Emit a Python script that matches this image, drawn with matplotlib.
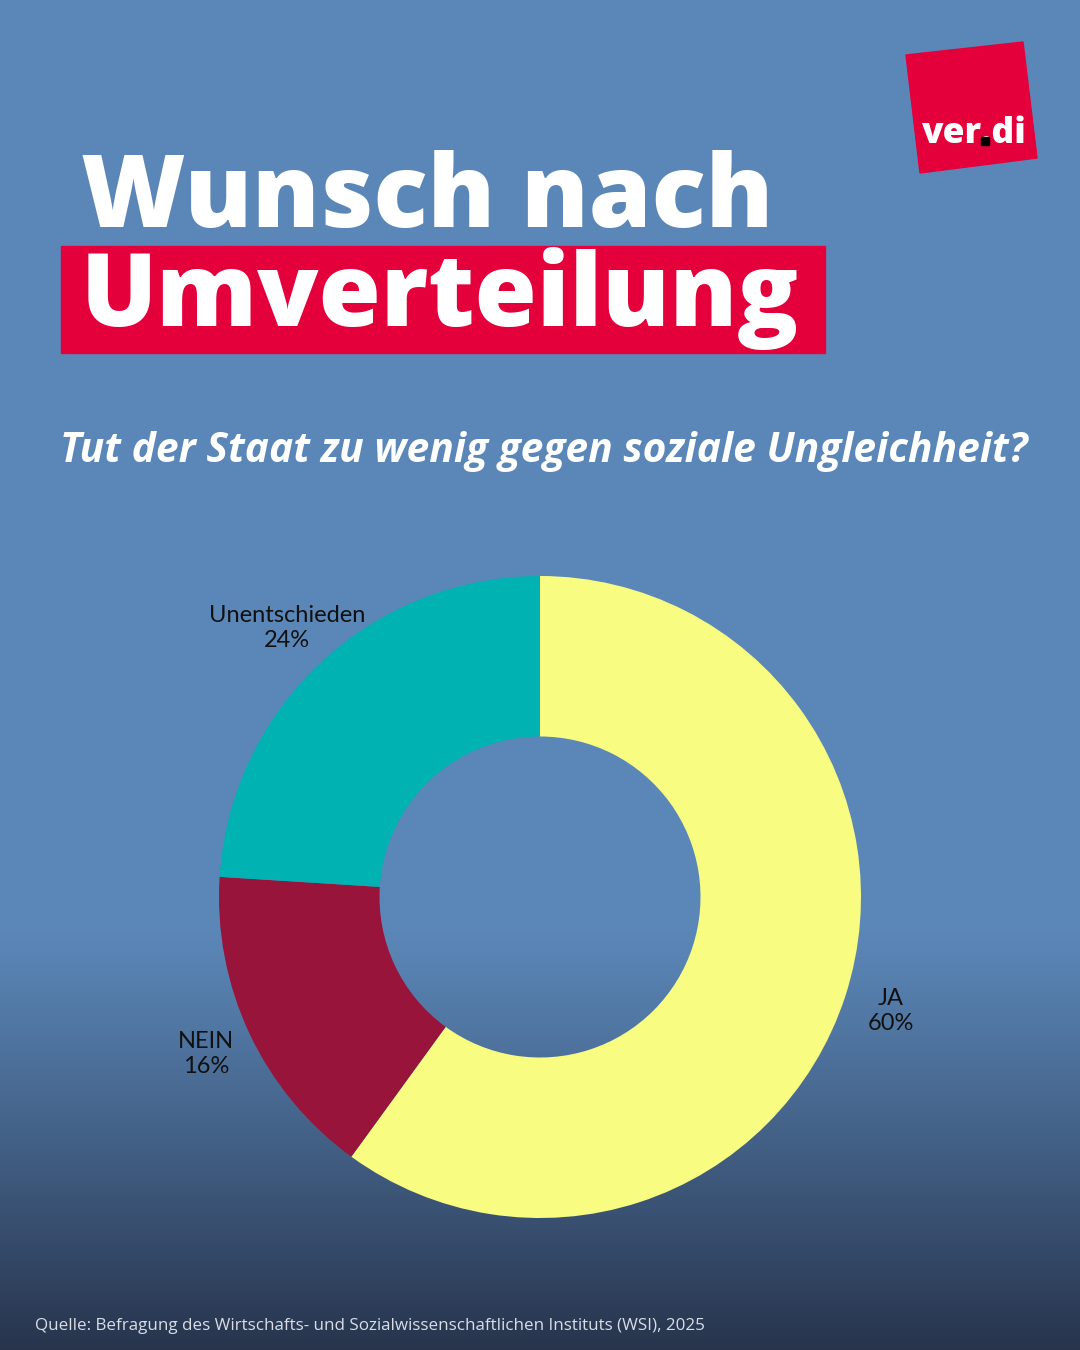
import numpy as np
import matplotlib
matplotlib.use("Agg")
import matplotlib.pyplot as plt
from matplotlib.patches import Rectangle, Polygon

# ---- data ----
categories = ["JA", "NEIN", "Unentschieden"]
values = [60, 16, 24]
colors = ["#f8fd82", "#98143a", "#00b2b2"]
title_line1 = "Wunsch nach"
title_line2 = "Umverteilung"
subtitle = "Tut der Staat zu wenig gegen soziale Ungleichheit?"
source = "Quelle: Befragung des Wirtschafts- und Sozialwissenschaftlichen Instituts (WSI), 2025"

W, H = 1080, 1350
fig = plt.figure(figsize=(W / 100, H / 100), dpi=100)

# ---- background gradient ----
bg = fig.add_axes([0, 0, 1, 1])
bg.set_xlim(0, W)
bg.set_ylim(H, 0)
bg.axis("off")
top = np.array([0x5b, 0x87, 0xb8]) / 255
bot = np.array([0x27, 0x34, 0x4c]) / 255
ys = np.arange(H)
t = np.clip((ys - 930) / (H - 930), 0, 1) ** 1.1
grad = top[None, :] * (1 - t[:, None]) + bot[None, :] * t[:, None]
img = np.repeat(grad[:, None, :], 4, axis=1)
bg.imshow(img, extent=[0, W, H, 0], aspect="auto", zorder=0)

# title box + title
bg.add_patch(Rectangle((61, 246), 764, 107, color="#e4003a", zorder=1))
bg.text(81, 326, title_line1 + "\n" + title_line2, color="white", fontsize=72.5,
        fontweight=800, family="Open Sans", ha="left", va="baseline",
        linespacing=0.95, zorder=2, multialignment="left")
bg.text(60, 462, subtitle, color="white", fontsize=29.3, fontweight="bold",
        style="italic", family="Open Sans", ha="left", va="baseline", zorder=2)

# logo
logo = [(906, 55), (1023, 42), (1037, 158), (920, 173)]
bg.add_patch(Polygon(logo, closed=True, color="#e4003a", zorder=1))
bg.text(973, 143, "ver.di", color="white", fontsize=25.5, fontweight=800,
        family="Open Sans", ha="center", va="baseline", zorder=2)
bg.add_patch(Rectangle((981, 137), 7.5, 7.5, color="black", zorder=3))

bg.text(35, 1330, source, color="#d8dde6", fontsize=12.25, family="Open Sans",
        ha="left", va="baseline", zorder=2)

# ---- donut ----
R = 321
cx, cy = 540, 897
ext = 1.6
ax = fig.add_axes([(cx - R * ext) / W, (H - cy - R * ext) / H,
                   2 * R * ext / W, 2 * R * ext / H])
ax.set_xlim(-ext, ext)
ax.set_ylim(-ext, ext)
ax.axis("off")
labels = [f"{c}\n{v}%" for c, v in zip(categories, values)]
wedges, texts = ax.pie(values, colors=colors, startangle=90, counterclock=False,
                       radius=1, wedgeprops=dict(width=0.5, linewidth=0),
                       labels=labels, labeldistance=1.15,
                       textprops=dict(fontsize=17, color="#111111", family="Lato",
                                      linespacing=1.2))
for tx in texts:
    tx.set_ha("center")
    tx.set_va("center")
ax.set_xlim(-ext, ext)
ax.set_ylim(-ext, ext)

fig.savefig("out.png", dpi=100)
